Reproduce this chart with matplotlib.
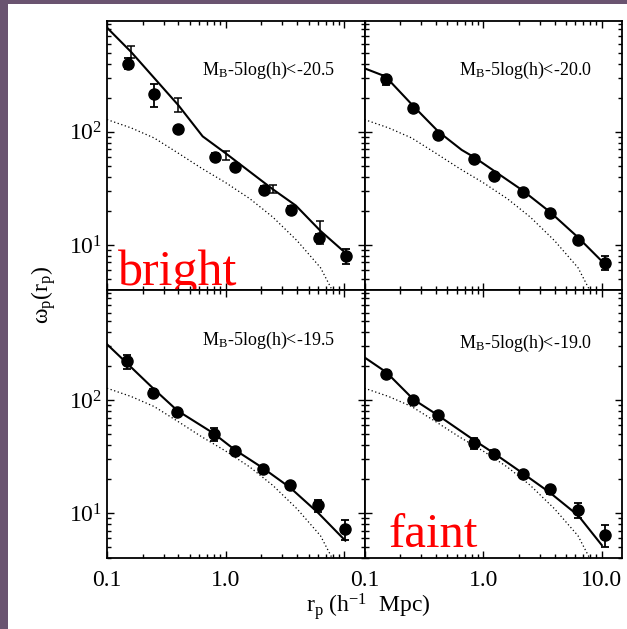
import numpy as np
import matplotlib
matplotlib.use("Agg")
import matplotlib.pyplot as plt
from matplotlib.patches import Rectangle

plt.rcParams['font.family'] = ['Liberation Serif', 'DejaVu Serif']
plt.rcParams['mathtext.fontset'] = 'custom'
plt.rcParams['mathtext.rm'] = 'Liberation Serif'
plt.rcParams['mathtext.it'] = 'Liberation Serif:italic'

# dotted curve (same in every panel)
dot_x = [0.1, 0.16, 0.25, 0.4, 0.63, 1.0, 1.6, 2.5, 4.0, 6.3, 7.7, 9.0]
dot_y = [128, 108, 88, 64.5, 47.4, 35.5, 25.6, 17.6, 10.9, 6.3, 4.2, 3.0]

# M < -20.5
tl_x = [0.15, 0.25, 0.40, 0.81, 1.21, 2.1, 3.57, 6.15, 10.4]
tl_y = [400, 214, 106, 60, 48.4, 30.7, 20.3, 11.6, 8.0]
tl_err = [45, 48, 6, 5, 3.5, 2.2, 1.6, 1.0, 1.2]
tl_mx = [0.1, 0.16, 0.4, 0.64, 1.0, 2.5, 3.9, 6.3, 10.1]
tl_my = [830, 505, 171, 91, 64.5, 31, 22.3, 13.3, 8.6]
# extra error bars without markers
tl2_x = [0.16, 0.40, 1.0, 2.53, 6.3]
tl2_y = [512, 174, 61.9, 31.1, 13.2]
tl2_err = [62, 24, 6, 2.4, 3.0]

# M < -20.0
tr_x = [0.153, 0.258, 0.419, 0.836, 1.23, 2.15, 3.67, 6.34, 10.7]
tr_y = [290, 163, 92.7, 57, 40.5, 29.3, 19.2, 11.1, 6.95]
tr_err = [30, 10, 5, 3, 2, 1.5, 1.0, 0.6, 1.0]
tr_mx = [0.1, 0.15, 0.26, 0.42, 0.66, 0.84, 2.15, 3.67, 6.34, 10.7]
tr_my = [363, 308, 167, 100, 69, 59.5, 30.3, 19.5, 11.6, 6.7]

# M < -19.5
bl_x = [0.148, 0.246, 0.392, 0.79, 1.19, 2.06, 3.5, 6.05, 10.2]
bl_y = [221, 117, 79, 50.4, 35.3, 24.8, 17.6, 11.7, 7.25]
bl_err = [31, 8, 5, 6.5, 2.5, 1.5, 1.0, 1.4, 1.5]
bl_mx = [0.1, 0.148, 0.246, 0.392, 0.79, 1.19, 2.06, 3.5, 6.05, 10.2]
bl_my = [314, 212, 127, 81, 51, 36.5, 25.1, 16.8, 10.0, 5.7]

# M < -19.0
br_x = [0.153, 0.258, 0.413, 0.83, 1.23, 2.15, 3.65, 6.34, 10.7]
br_y = [172, 100, 73.8, 41.7, 33.6, 22, 16.2, 10.7, 6.4]
br_err = [12, 8, 5, 5, 2.5, 1.5, 1.3, 1.7, 1.4]
br_mx = [0.1, 0.153, 0.258, 0.413, 0.83, 1.23, 2.15, 3.65, 6.34, 10.0]
br_my = [240, 177, 102, 74, 44.6, 34, 22.6, 15.2, 9.5, 5.2]

labels = ["M$_{\\rm B}$-5log(h)<-20.5", "M$_{\\rm B}$-5log(h)<-20.0",
          "M$_{\\rm B}$-5log(h)<-19.5", "M$_{\\rm B}$-5log(h)<-19.0"]

fig = plt.figure(figsize=(6.27, 6.29), dpi=100, facecolor='#6a5470')
fig.patches.append(Rectangle((8 / 627, 0), 1, 1 - 4 / 629, transform=fig.transFigure,
                             facecolor='white', edgecolor='none', zorder=-10))

W, H = 627.0, 629.0
x0, xm, x1 = 107, 364.5, 622
y0, ym, y1 = 21, 290, 558
pos = [
    [x0 / W, 1 - ym / H, (xm - x0) / W, (ym - y0) / H],
    [xm / W, 1 - ym / H, (x1 - xm) / W, (ym - y0) / H],
    [x0 / W, 1 - y1 / H, (xm - x0) / W, (y1 - ym) / H],
    [xm / W, 1 - y1 / H, (x1 - xm) / W, (y1 - ym) / H],
]

data = [
    (tl_x, tl_y, tl_err, tl_mx, tl_my),
    (tr_x, tr_y, tr_err, tr_mx, tr_my),
    (bl_x, bl_y, bl_err, bl_mx, bl_my),
    (br_x, br_y, br_err, br_mx, br_my),
]
label_y = [0.815, 0.815, 0.81, 0.80]

for i in range(4):
    ax = fig.add_axes(pos[i])
    px, py, pe, mx, my = data[i]
    ax.plot(dot_x, dot_y, color='black', ls=(0, (1, 2)), lw=0.9)
    ax.plot(mx, my, color='black', lw=1.5)
    ax.errorbar(px, py, yerr=pe, fmt='o', color='black', ms=8,
                elinewidth=1.3, capsize=3, capthick=1.3)
    if i == 0:
        ax.errorbar(tl2_x, tl2_y, yerr=tl2_err, fmt='none', ecolor='black',
                    elinewidth=1.1, capsize=3, capthick=1.1)
    ax.set_xscale('log')
    ax.set_yscale('log')
    ax.set_xlim(0.1, 14.8)
    ax.set_ylim(4, 950)
    ax.tick_params(which='both', direction='in', top=True, right=True,
                   labelsize=17, width=1.0)
    ax.tick_params(which='major', length=5)
    ax.tick_params(which='minor', length=3)
    for s in ax.spines.values():
        s.set_linewidth(1.3)
    ax.text(0.885, label_y[i], labels[i], transform=ax.transAxes,
            ha='right', va='center', fontsize=13)
    if i in (0, 2):
        ax.set_yticks([10, 100])
        ax.set_yticklabels(['$10^1$', '$10^2$'])
    else:
        ax.tick_params(axis='y', which='both', labelleft=False)
    ax.yaxis.set_minor_formatter(plt.NullFormatter())
    ax.xaxis.set_minor_formatter(plt.NullFormatter())
    if i < 2:
        ax.tick_params(axis='x', which='both', labelbottom=False)
    elif i == 2:
        ax.set_xticks([0.1, 1, 10])
        ax.set_xticklabels(['0.1', '1.0', ''])
    else:
        ax.set_xticks([0.1, 1, 10])
        ax.set_xticklabels(['0.1', '1.0', '10.0'])
    ax.tick_params(axis='x', pad=9)
    if i == 0:
        ax.text(0.043, 0.02, 'bright', transform=ax.transAxes, color='red',
                fontsize=36, ha='left', va='baseline', clip_on=False, zorder=5)
    if i == 3:
        ax.text(0.092, 0.041, 'faint', transform=ax.transAxes, color='red',
                fontsize=35, ha='left', va='baseline', zorder=5)

fig.text(44 / W, 1 - 295 / H, '\u03c9$_{\\rm p}$(r$_{\\rm p}$)', rotation=90,
         ha='center', va='center', fontsize=17)
fig.text(368 / W, 1 - 607 / H, 'r$_{\\rm p}$ (h$^{-1}$  Mpc)',
         ha='center', va='center', fontsize=17)

fig.savefig('out.png', dpi=100, facecolor=fig.get_facecolor())
